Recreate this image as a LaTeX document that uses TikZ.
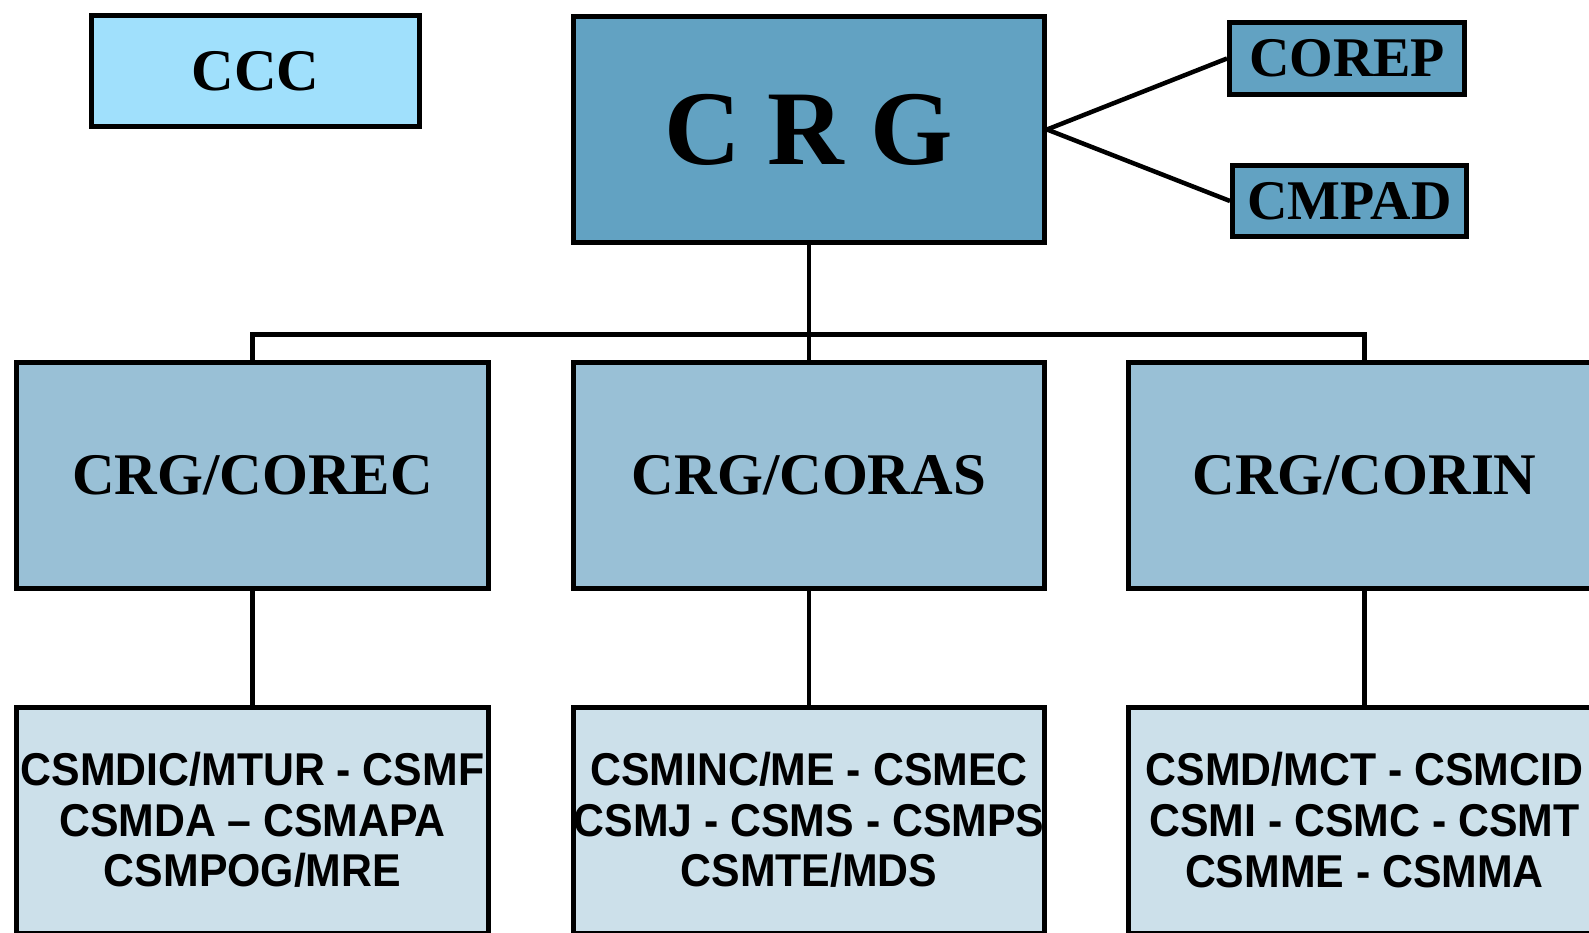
\documentclass[tikz,border=0pt]{standalone}
\usepackage{fontspec}
\setmainfont{Liberation Serif}
\newfontfamily\sansb{Liberation Sans Bold}[FakeStretch=0.93]
\definecolor{cccfill}{RGB}{160,224,252}
\definecolor{topfill}{RGB}{98,162,194}
\definecolor{midfill}{RGB}{153,192,214}
\definecolor{lowfill}{RGB}{204,224,234}
\tikzset{
  box/.style={draw=black, line width=5pt, inner sep=0pt, align=center},
  serifb/.style={font=\fontsize{#1}{#1}\selectfont\bfseries},
  lowtext/.style={font=\sansb\fontsize{46}{50.7}\selectfont},
  conn/.style={line width=4.5pt}
}
\begin{document}
\begin{tikzpicture}[x=1pt,y=-1pt]
\fill[white] (0,0) rectangle (1589,933);
\useasboundingbox (0,0) rectangle (1589,933);
% top row
\node[box, fill=cccfill, minimum width=328pt, minimum height=111pt, serifb=59] (ccc) at (255.5,71) {CCC};
\node[box, fill=topfill, minimum width=471pt, minimum height=226pt, serifb=106] (crg) at (809,129.5) {C R G};
\node[box, fill=topfill, minimum width=235pt, minimum height=72pt, serifb=56] (corep) at (1347,58.5) {COREP};
\node[box, fill=topfill, minimum width=234pt, minimum height=71pt, serifb=56] (cmpad) at (1349.5,201) {CMPAD};
% middle row
\node[box, fill=midfill, minimum width=472pt, minimum height=226pt, serifb=59] (corec) at (252.5,475.5) {CRG/COREC};
\node[box, fill=midfill, minimum width=471pt, minimum height=226pt, serifb=59] (coras) at (809,475.5) {CRG/CORAS};
\node[box, fill=midfill, minimum width=472pt, minimum height=226pt, serifb=59] (corin) at (1364.5,475.5) {CRG/CORIN};
% bottom row
\node[box, fill=lowfill, minimum width=472pt, minimum height=226pt, lowtext] (lowa) at (252.5,820) {CSMDIC/MTUR - CSMF\\CSMDA – CSMAPA\\CSMPOG/MRE};
\node[box, fill=lowfill, minimum width=471pt, minimum height=226pt, lowtext] (lowb) at (809,820) {CSMINC/ME - CSMEC\\CSMJ - CSMS - CSMPS\\CSMTE/MDS};
\node[box, fill=lowfill, minimum width=472pt, minimum height=226pt, lowtext] (lowc) at (1364.5,820) {CSMD/MCT - CSMCID\\CSMI - CSMC - CSMT\\CSMME - CSMMA};
% connectors
\coordinate (bus) at (809,334.5);
\draw[conn] (crg.east) -- (corep.west);
\draw[conn] (crg.east) -- (cmpad.west);
\draw[conn] (crg.south) -- (coras.north);
\draw[conn] (corec.north) |- (bus) -| (corin.north);
\draw[conn] (corec.south) -- (lowa.north);
\draw[conn] (coras.south) -- (lowb.north);
\draw[conn] (corin.south) -- (lowc.north);
\end{tikzpicture}
\end{document}
